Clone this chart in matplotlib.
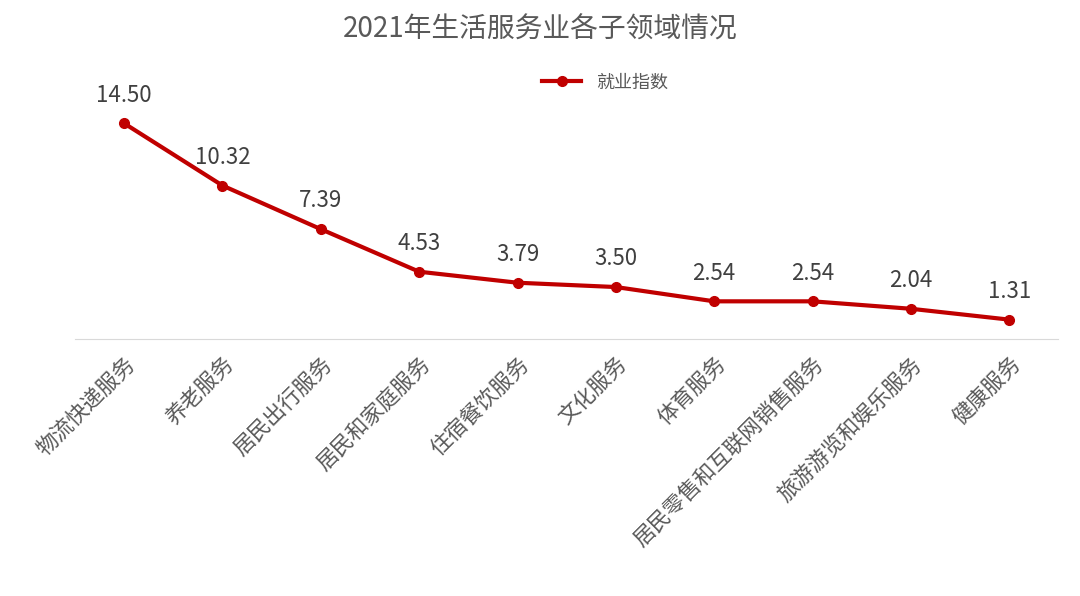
import matplotlib.pyplot as plt

plt.rcParams['font.family'] = ['Noto Sans CJK SC', 'DejaVu Sans']

categories = ["物流快递服务", "养老服务", "居民出行服务", "居民和家庭服务", "住宿餐饮服务",
              "文化服务", "体育服务", "居民零售和互联网销售服务", "旅游游览和娱乐服务", "健康服务"]
values = [14.50, 10.32, 7.39, 4.53, 3.79, 3.50, 2.54, 2.54, 2.04, 1.31]

fig = plt.figure(figsize=(10.8, 5.96), dpi=100)
ax = fig.add_axes([0.0694, 0.431, 0.9106, 0.3995])
x = range(len(categories))
ax.plot(x, values, color="#C00000", lw=3, marker="o", ms=7, label="就业指数")
for i, v in zip(x, values):
    ax.annotate(f"{v:.2f}", (i, v), xytext=(0, 12), textcoords="offset points",
                ha="center", va="bottom", fontsize=16, color="#404040")
ax.set_xlim(-0.5, len(categories) - 0.5)
ax.set_ylim(0, 16)
ax.set_yticks([])
ax.set_xticks(list(x))
ax.set_xticklabels(categories, rotation=45, ha="right", rotation_mode="anchor",
                   fontsize=15.5, color="#595959")
ax.tick_params(axis="x", length=0, pad=10)
for s in ["top", "right", "left"]:
    ax.spines[s].set_visible(False)
ax.spines["bottom"].set_color("#D9D9D9")
fig.suptitle("2021年生活服务业各子领域情况", y=0.975, fontsize=20, color="#595959")
fig.legend(loc="center", bbox_to_anchor=(0.56, 0.862), frameon=False, fontsize=13,
           labelcolor="#595959", handlelength=2.2)
fig.savefig("out.png", dpi=100, facecolor="white")
